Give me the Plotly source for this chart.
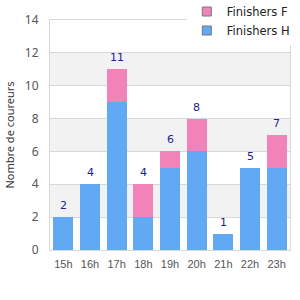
import plotly.graph_objects as go

categories = ["15h", "16h", "17h", "18h", "19h", "20h", "21h", "22h", "23h"]
finishers_h = [2, 4, 9, 2, 5, 6, 1, 5, 5]
finishers_f = [0, 0, 2, 2, 1, 2, 0, 0, 2]
totals = [h + f for h, f in zip(finishers_h, finishers_f)]

BLUE = "#62a9f4"
PINK = "#f283b9"
FONT = "DejaVu Sans"

fig = go.Figure()
fig.add_bar(x=categories, y=finishers_h, marker_color=BLUE, marker_line_width=0,
            showlegend=False, hoverinfo="skip")
fig.add_bar(x=categories, y=finishers_f, marker_color=PINK, marker_line_width=0,
            showlegend=False, hoverinfo="skip")
fig.add_scatter(x=[None], y=[None], mode="markers", name="Finishers F",
                marker=dict(symbol="square", size=9, color=PINK, line=dict(color="#777", width=1)))
fig.add_scatter(x=[None], y=[None], mode="markers", name="Finishers H",
                marker=dict(symbol="square", size=9, color=BLUE, line=dict(color="#777", width=1)))

annotations = []
for c, t in zip(categories, totals):
    annotations.append(dict(x=c, y=t, xref="x", yref="y", text=str(t), showarrow=False,
                            yanchor="bottom", yshift=3,
                            font=dict(family=FONT, size=11, color="#1c1c8c")))

shapes = []
for lo in [2, 6, 10]:
    shapes.append(dict(type="rect", xref="paper", yref="y", x0=0, x1=1, y0=lo, y1=lo + 2,
                       fillcolor="#f2f2f2", line_width=0, layer="below"))

fig.update_layout(
    width=300, height=300,
    margin=dict(l=50, r=10, t=20, b=50, autoexpand=False),
    barmode="stack", bargap=0.25,
    plot_bgcolor="white", paper_bgcolor="white",
    font=dict(family=FONT, size=11, color="#444"),
    shapes=shapes, annotations=annotations,
    legend=dict(x=0.57, xanchor="left", y=1.10, yanchor="top", bgcolor="white",
                traceorder="normal",
                font=dict(family=FONT, size=11.5, color="#222"), itemwidth=30,
                tracegroupgap=0),
    xaxis=dict(showgrid=False, showline=True, linecolor="#d8d8d8", mirror=True,
               ticks="", ticklabelstandoff=4,
               tickfont=dict(family="Liberation Sans Narrow, Liberation Sans", size=11, color="#555")),
    yaxis=dict(range=[0, 14], dtick=2, showgrid=True, gridcolor="#d8d8d8",
               showline=True, linecolor="#d8d8d8", mirror=True, zeroline=False,
               ticks="", ticklabelstandoff=8,
               tickfont=dict(family="Noto Sans", size=12, color="#555"),
               title=dict(text="Nombre de coureurs",
                          font=dict(family="Noto Sans", size=11, color="#333"), standoff=8)),
)

fig.write_html("out.html")
